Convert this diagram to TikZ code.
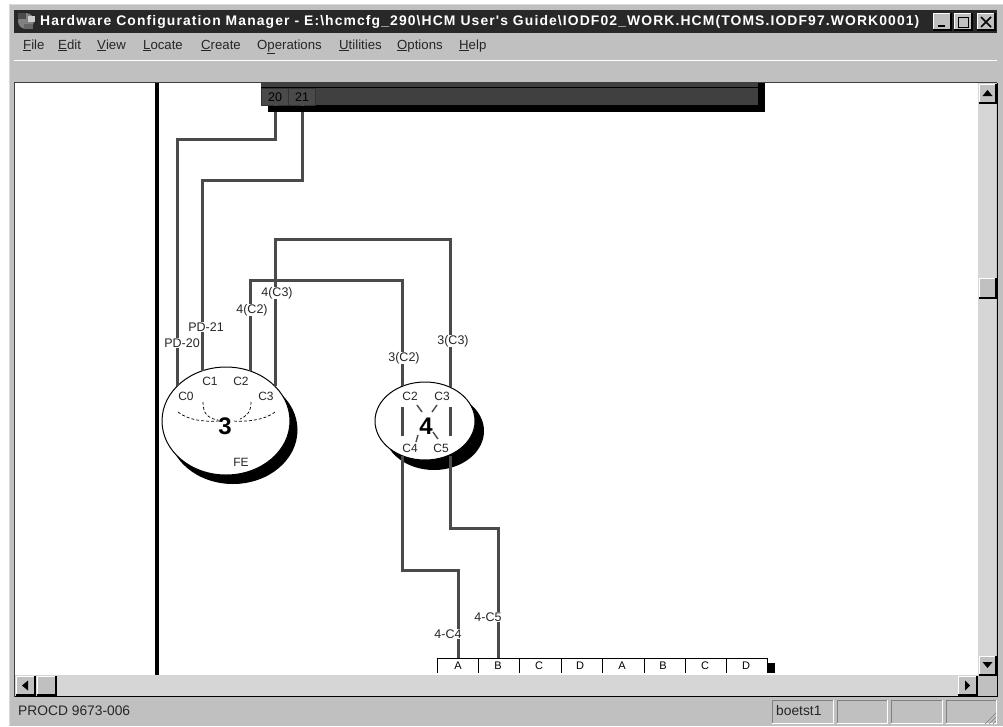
\documentclass[tikz,border=0pt]{standalone}
\usepackage{fontspec}
\usetikzlibrary{shapes.geometric}
\setmainfont{Liberation Sans}
\newfontfamily\titlefont[LetterSpace=8]{Liberation Sans}
\definecolor{wingray}{HTML}{C0C0C0}
\definecolor{scrollgray}{HTML}{D6D6D6}
\definecolor{chgray}{HTML}{404040}
\definecolor{cellgray}{HTML}{4A4A4A}
\definecolor{linegray}{HTML}{4A4A4A}
\definecolor{titledark}{HTML}{282828}
\newcommand{\raisedbtn}[4]{
    \fill[wingray] (#1,#2) rectangle (#3,#4);
    \draw[white] (#1,#4) -- (#1,#2) -- (#3,#2);
    \draw[black,line width=1.5pt] (#1,#4) -- (#3,#4) -- (#3,#2);
}
\newcommand{\sunkenbox}[4]{
    \draw[gray] (#1,#4) -- (#1,#2) -- (#3,#2);
    \draw[white] (#1,#4) -- (#3,#4) -- (#3,#2);
}

\begin{document}
\begin{tikzpicture}[x=1pt,y=-1pt,
    chan/.style={linegray,line width=3pt},
    lab/.style={fill=white,inner sep=0.6pt,font=\fontsize{12.5}{13}\selectfont,text=black!85},
    port/.style={inner sep=0pt,font=\fontsize{12}{13}\selectfont,text=black!85},
    bigdigit/.style={inner sep=0pt,font=\fontsize{24}{26}\selectfont\bfseries},
    cell/.style={draw=black!80,fill=cellgray,minimum width=27pt,minimum height=17pt,inner sep=0pt,text height=9pt,text depth=0pt,font=\fontsize{12.5}{14}\selectfont,text=black},
    letter/.style={inner sep=0pt,minimum width=38pt,minimum height=15pt,font=\fontsize{11}{12}\selectfont},
    menuitem/.style={anchor=west,inner sep=0pt,text height=9pt,text depth=3pt,font=\fontsize{13.2}{14}\selectfont,text=black!85},
    statustext/.style={anchor=west,inner sep=0pt,font=\fontsize{13.8}{15}\selectfont,text=black!85},
    cu/.style={ellipse,draw=black,line width=1pt,fill=white,inner sep=0pt},
    cross/.style={linegray,line width=1.4pt},
    wire/.style={densely dashed,line width=0.7pt},
    ]
    \useasboundingbox (0,0) rectangle (1003,726);
    \fill[white] (0,0) rectangle (1003,726);
    % window frame
    \fill[wingray] (9,4) rectangle (1003,726);
    \draw[white!85!black] (9.5,726) -- (9.5,4.5) -- (1003,4.5);
    \fill[titledark] (14,10) rectangle (997,33);
    \draw[white] (14,60) -- (997,60);
    % title bar
    \fill[gray] (26,21) circle (8);
    \fill[black!70] (18,13) rectangle (26,19);
    \fill[white!80!black] (28,16) rectangle (35,22);
    \fill[black!60] (24,24) rectangle (33,29);
    \node[anchor=west,inner sep=0pt,text=white,font=\fontsize{13.9}{15}\selectfont\bfseries\titlefont] (wintitle) at (40,21.5) {Hardware Configuration Manager - E:\textbackslash hcmcfg\_290\textbackslash HCM User's Guide\textbackslash IODF02\_WORK.HCM(TOMS.IODF97.WORK0001)};
    \raisedbtn{933}{13}{951}{30}
    \raisedbtn{954}{13}{972}{30}
    \raisedbtn{977}{13}{995}{30}
    \fill[black] (938,25) rectangle (945,27);
    \draw[black,line width=1pt] (958,17) rectangle (968,27);
    \draw[black,line width=1.6pt] (981,17) -- (991,27);
    \draw[black,line width=1.6pt] (991,17) -- (981,27);
    % menu
    \node[menuitem] (mfile) at (23,46) {\underline{F}ile};
    \node[menuitem] (medit) at (58,46) {\underline{E}dit};
    \node[menuitem] (mview) at (97,46) {\underline{V}iew};
    \node[menuitem] (mlocate) at (143,46) {\underline{L}ocate};
    \node[menuitem] (mcreate) at (201,46) {\underline{C}reate};
    \node[menuitem] (moper) at (257,46) {O\underline{p}erations};
    \node[menuitem] (mutil) at (339,46) {\underline{U}tilities};
    \node[menuitem] (mopt) at (397,46) {\underline{O}ptions};
    \node[menuitem] (mhelp) at (459,46) {\underline{H}elp};
    % drawing area
    \fill[white] (15,83) rectangle (978,675);
    \draw[black!75,line width=1pt] (14.5,697) -- (14.5,82.5) -- (997,82.5);
    \draw[black,line width=3.5pt] (157,83) -- (157,675);
    % processor bar
    \fill[chgray] (261,83) rectangle (758,105);
    \draw[black] (261,87.5) -- (758,87.5);
    \draw[black] (261,105) -- (758,105);
    \node[cell] (p20) at (275,96.5) {20};
    \node[cell] (p21) at (302,96.5) {21};
    % control units
    \fill[black] (233,430) ellipse (64.5 and 54);
    \fill[black] (434,431) ellipse (50 and 39);
    \node[cu,minimum width=128pt,minimum height=108pt] (cu3) at (226,421) {};
    \node[cu,minimum width=100pt,minimum height=78pt] (cu4) at (425,421) {};
    \coordinate (cu3c0) at (177,386);
    \coordinate (cu3c1) at (202,371);
    \coordinate (cu3c2) at (250,371);
    \coordinate (cu3c3) at (275,386);
    \coordinate (cu4c2) at (402,386);
    \coordinate (cu4c3) at (450,387);
    \coordinate (cu4c4) at (402,456);
    \coordinate (cu4c5) at (450,456);
    % switch strip
    \node[letter] (sa) at (458,665.5) {A};
    \node[letter] (sb) at (498,665.5) {B};
    \node[letter] (sc) at (539,665.5) {C};
    \node[letter] (sd) at (580,665.5) {D};
    \node[letter] (se) at (622,665.5) {A};
    \node[letter] (sf) at (663,665.5) {B};
    \node[letter] (sg) at (705,665.5) {C};
    \node[letter] (sh) at (746,665.5) {D};
    \draw[black,line width=1pt] (437.5,673) -- (437.5,658) -- (767.5,658) -- (767.5,673);
    \draw (478.5,658) -- (478.5,673);
    \draw (519.5,658) -- (519.5,673);
    \draw (561,658) -- (561,673);
    \draw (602.5,658) -- (602.5,673);
    \draw (644,658) -- (644,673);
    \draw (685.5,658) -- (685.5,673);
    \draw (726.5,658) -- (726.5,673);
    \fill[black] (767,663) rectangle (775,673);
    % channels
    \draw[chan] (p20.south) |- (177,139) -- (cu3c0);
    \draw[chan] (p21.south) |- (202,180) -- (cu3c1);
    \draw[chan] (cu3c2) |- (402,280) -- (cu4c2);
    \draw[chan] (cu3c3) |- (450,239) -- (cu4c3);
    \draw[chan] (cu4c4) |- (458,570) -- (sa.north);
    \draw[chan] (cu4c5) |- (498,528) -- (sb.north);
    \draw[chan] (402,407) -- (402,436);
    \draw[chan] (450,407) -- (450,436);
    % bar shadow
    \fill[black] (268,105.5) rectangle (765,112);
    \fill[black] (758,83) rectangle (765,112);
    % labels on the lines
    \node[lab] (lpd20) at (182,343) {PD-20};
    \node[lab] (lpd21) at (206,327) {PD-21};
    \node[lab] (lc2) at (252,310) {4(C2)};
    \node[lab] (lc3) at (277,293) {4(C3)};
    \node[lab] (rc2) at (404,358) {3(C2)};
    \node[lab] (rc3) at (453,341) {3(C3)};
    \node[lab] (lc4) at (448,634) {4-C4};
    \node[lab] (lc5) at (488,617) {4-C5};
    % inside control unit 3
    \node[port] (a0) at (186,396) {C0};
    \node[port] (a1) at (210,381) {C1};
    \node[port] (a2) at (241,381) {C2};
    \node[port] (a3) at (266,396) {C3};
    \node[port] (afe) at (241,462) {FE};
    \node[bigdigit] (acenter) at (225,426) {3};
    \draw[wire] (178,412) .. controls (188,420) and (203,422) .. (219,421);
    \draw[wire] (275,412) .. controls (265,420) and (247,422) .. (232,421);
    \draw[wire] (203,402) .. controls (203,413) and (207,418) .. (218,420);
    \draw[wire] (251,402) .. controls (251,412) and (247,416) .. (240,419);
    % inside control unit 4
    \node[port] (b2) at (410,396) {C2};
    \node[port] (b3) at (442,396) {C3};
    \node[port] (b4) at (410,448) {C4};
    \node[port] (b5) at (441,448) {C5};
    \node[bigdigit] (bcenter) at (426,426) {4};
    \draw[cross] (417,405) -- (422,412);
    \draw[cross] (437,405) -- (432,412);
    \draw[cross] (418,435) -- (416,442);
    \draw[cross] (433,432) -- (438,439);
    % scroll bars
    \fill[scrollgray] (15,675) rectangle (978,696);
    \fill[scrollgray] (978,83) rectangle (996,675);
    \fill[wingray] (978,675) rectangle (996,696);
    \draw[black,line width=1pt] (14.5,696.5) -- (997,696.5);
    \draw[black,line width=1pt] (997,82.5) -- (997,697);
    \raisedbtn{979}{84}{996}{103}
    \raisedbtn{979}{278}{996}{298}
    \raisedbtn{979}{656}{996}{675}
    \raisedbtn{16}{676}{35}{695}
    \raisedbtn{37}{676}{56}{695}
    \raisedbtn{958}{676}{977}{695}
    \fill[black] (987.5,90) -- (982.5,96) -- (992.5,96) -- cycle;
    \fill[black] (987.5,668) -- (982.5,662) -- (992.5,662) -- cycle;
    \fill[black] (22,685.5) -- (28,680.5) -- (28,690.5) -- cycle;
    \fill[black] (970,685.5) -- (965,680.5) -- (965,690.5) -- cycle;
    % status bar
    \node[statustext] (statusl) at (18,711) {PROCD 9673-006};
    \sunkenbox{772}{700}{833}{723}
    \sunkenbox{837}{700}{887}{723}
    \sunkenbox{891}{700}{942}{723}
    \sunkenbox{946}{700}{996}{723}
    \node[statustext] (statusr) at (776,711) {boetst1};
    \draw[gray] (985,724) -- (996,713);
    \draw[gray] (989,724) -- (996,717);
    \draw[gray] (993,724) -- (996,721);
\end{tikzpicture}
\end{document}
